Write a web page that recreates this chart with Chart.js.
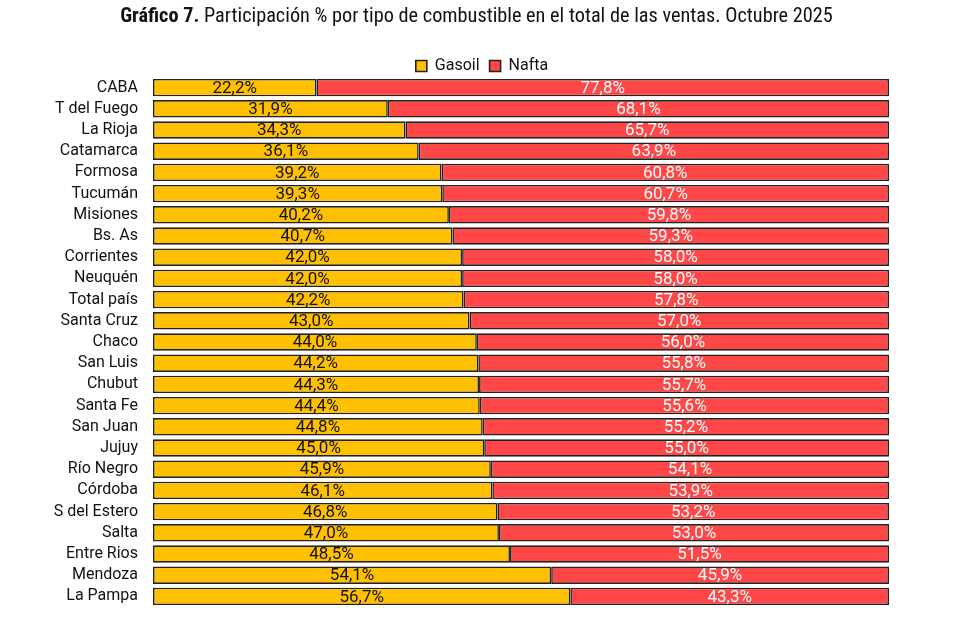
<!DOCTYPE html>
<html>
<head>
<meta charset="utf-8">
<script src="https://cdn.jsdelivr.net/npm/chart.js@4"></script>
<style>
  html, body { margin: 0; padding: 0; background: #fff; }
  #wrap { position: relative; width: 963px; height: 630px; }
  #title {
    position: absolute; left: -5px; top: 3px; width: 963px; text-align: center;
    font-family: "Liberation Sans Narrow", "Roboto Condensed", "DejaVu Sans Condensed", sans-serif;
    font-size: 20.3px; color: #111;
  }
</style>
</head>
<body>
<div id="wrap">
  <div id="title"><b>Gráfico 7.</b> Participación % por tipo de combustible en el total de las ventas. Octubre 2025</div>
  <canvas id="myChart" width="963" height="630"></canvas>
</div>
<script>
let provincias = ["CABA", "T del Fuego", "La Rioja", "Catamarca", "Formosa", "Tucumán", "Misiones", "Bs. As",
    "Corrientes", "Neuquén", "Total país", "Santa Cruz", "Chaco", "San Luis", "Chubut", "Santa Fe", "San Juan",
    "Jujuy", "Río Negro", "Córdoba", "S del Estero", "Salta", "Entre Rios", "Mendoza", "La Pampa"]

let gasoil = [22.2, 31.9, 34.3, 36.1, 39.2, 39.3, 40.2, 40.7, 42.0, 42.0, 42.2, 43.0, 44.0, 44.2, 44.3, 44.4,
    44.8, 45.0, 45.9, 46.1, 46.8, 47.0, 48.5, 54.1, 56.7]

let nafta = [77.8, 68.1, 65.7, 63.9, 60.8, 60.7, 59.8, 59.3, 58.0, 58.0, 57.8, 57.0, 56.0, 55.8, 55.7, 55.6,
    55.2, 55.0, 54.1, 53.9, 53.2, 53.0, 51.5, 45.9, 43.3]

let labelFont = "'Roboto', 'Liberation Sans', sans-serif"

// etiquetas de porcentaje dentro de cada tramo
const barLabels = {
    id: 'barLabels',
    afterDatasetsDraw(chart) {
        let ctx = chart.ctx
        ctx.save()
        ctx.font = "17px " + labelFont
        ctx.textAlign = 'center'
        ctx.textBaseline = 'middle'
        chart.data.datasets.forEach((ds, i) => {
            let meta = chart.getDatasetMeta(i)
            ctx.fillStyle = i === 0 ? '#111' : '#fff'
            meta.data.forEach((bar, j) => {
                let txt = ds.data[j].toFixed(1).replace('.', ',') + '%'
                ctx.fillText(txt, (bar.x + bar.base) / 2, bar.y + 1)
            })
        })
        ctx.restore()
    }
}

// leyenda centrada en la página y con alto fijo
const fixLegend = {
    id: 'fixLegend',
    beforeLayout(chart) {
        let lg = chart.legend
        if (lg && !lg._fixed) {
            let fit = lg.fit.bind(lg)
            lg.fit = function () { fit(); this.height = 29 }
            lg._fixed = true
        }
    },
    afterLayout(chart) {
        let lg = chart.legend
        let dx = 482 - (lg.left + lg.right) / 2
        lg.left += dx
        lg.right += dx
    }
}

var ctx = document.getElementById('myChart').getContext('2d');
var myChart = new Chart(ctx, {
    type: 'bar',
    data: {
        labels: provincias,
        datasets: [{
            label: 'Gasoil',
            data: gasoil,
            backgroundColor: '#FFC000',
            borderColor: '#222',
            borderWidth: 1.6,
            borderSkipped: false,
            barPercentage: 0.82,
            categoryPercentage: 1
        }, {
            label: 'Nafta',
            data: nafta,
            backgroundColor: '#FF4747',
            borderColor: '#222',
            borderWidth: 1.6,
            borderSkipped: false,
            barPercentage: 0.82,
            categoryPercentage: 1
        }]
    },
    options: {
        indexAxis: 'y',
        responsive: false,
        animation: false,
        layout: { padding: { top: 48, right: 74, bottom: 23, left: 0 } },
        plugins: {
            legend: {
                position: 'top',
                labels: {
                    boxWidth: 11,
                    boxHeight: 11,
                    padding: 10,
                    color: '#111',
                    font: { size: 16, family: labelFont }
                }
            },
            tooltip: { enabled: false }
        },
        scales: {
            x: {
                stacked: true,
                min: 0,
                max: 100,
                display: false
            },
            y: {
                stacked: true,
                grid: { display: false },
                border: { display: false },
                ticks: {
                    color: '#111',
                    padding: 7,
                    autoSkip: false,
                    font: { size: 16, family: labelFont }
                },
                afterFit: s => { s.width = 153 }
            }
        }
    },
    plugins: [barLabels, fixLegend]
});
</script>
</body>
</html>
